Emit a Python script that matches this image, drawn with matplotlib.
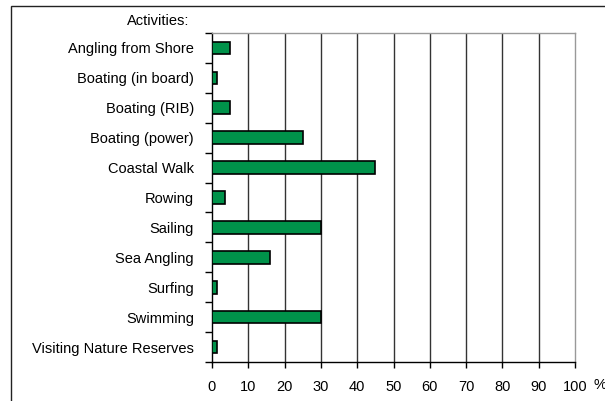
#!/usr/bin/env python
# -*- coding: utf-8 -*-

"""
Horizontal bar chart of participation in coastal activities.
"""

# Third party modules.
import matplotlib
matplotlib.use("Agg")
import matplotlib.pyplot as plt
from matplotlib.patches import Rectangle

# Globals and constants variables.
activities = ["Angling from Shore", "Boating (in board)", "Boating (RIB)",
              "Boating (power)", "Coastal Walk", "Rowing", "Sailing",
              "Sea Angling", "Surfing", "Swimming", "Visiting Nature Reserves"]
percentages = [5, 1.5, 5, 25, 45, 3.5, 30, 16, 1.5, 30, 1.5]
x_ticks = [0, 10, 20, 30, 40, 50, 60, 70, 80, 90, 100]

BAR_COLOR = "#00924A"


def run():
    plt.rcParams["font.family"] = ["Liberation Sans", "DejaVu Sans"]
    plt.rcParams["font.size"] = 10.5

    fig = plt.figure(figsize=(6.05, 4.01), dpi=100)
    ax = fig.add_axes([212 / 605, 1 - 362 / 401, 363 / 605, 329 / 401])

    positions = list(range(len(activities)))
    ax.barh(positions, percentages, height=0.42, color=BAR_COLOR,
            edgecolor="black", linewidth=1.2, zorder=3)

    ax.set_xlim(0, 100)
    ax.set_ylim(len(activities) - 0.5, -0.5)

    # vertical grid lines, the last one lighter
    for x in x_ticks[1:-1]:
        ax.axvline(x, color="#333333", linewidth=1.0, zorder=1)

    ax.set_xticks(x_ticks)
    ax.set_xticklabels([str(x) for x in x_ticks])
    ax.tick_params(axis="x", direction="out", length=4, width=1, pad=9,
                   color="black")

    ax.set_yticks(positions)
    ax.set_yticklabels(activities)
    ax.set_yticks([p - 0.5 for p in positions] + [len(activities) - 0.5],
                  minor=True)
    ax.tick_params(axis="y", which="major", length=0, pad=13)
    ax.tick_params(axis="y", which="minor", direction="out", length=5,
                   width=1, color="black")

    for side in ("top", "right"):
        ax.spines[side].set_color("#999999")
        ax.spines[side].set_linewidth(1.0)
    for side in ("left", "bottom"):
        ax.spines[side].set_color("black")
        ax.spines[side].set_linewidth(1.0)

    fig.text(189 / 605, 1 - 21 / 401, "Activities:", ha="right", va="center")
    fig.text(593 / 605, 1 - 385 / 401, "%", ha="left", va="center")

    # outer chart frame
    frame = Rectangle((11 / 605, -0.1), 1.2, 1.1 - 6 / 401,
                      transform=fig.transFigure, fill=False,
                      edgecolor="#222222", linewidth=1.0, clip_on=False)
    fig.patches.append(frame)

    fig.savefig("out.png", dpi=100)


def main():
    run()


if __name__ == '__main__':
    main()
